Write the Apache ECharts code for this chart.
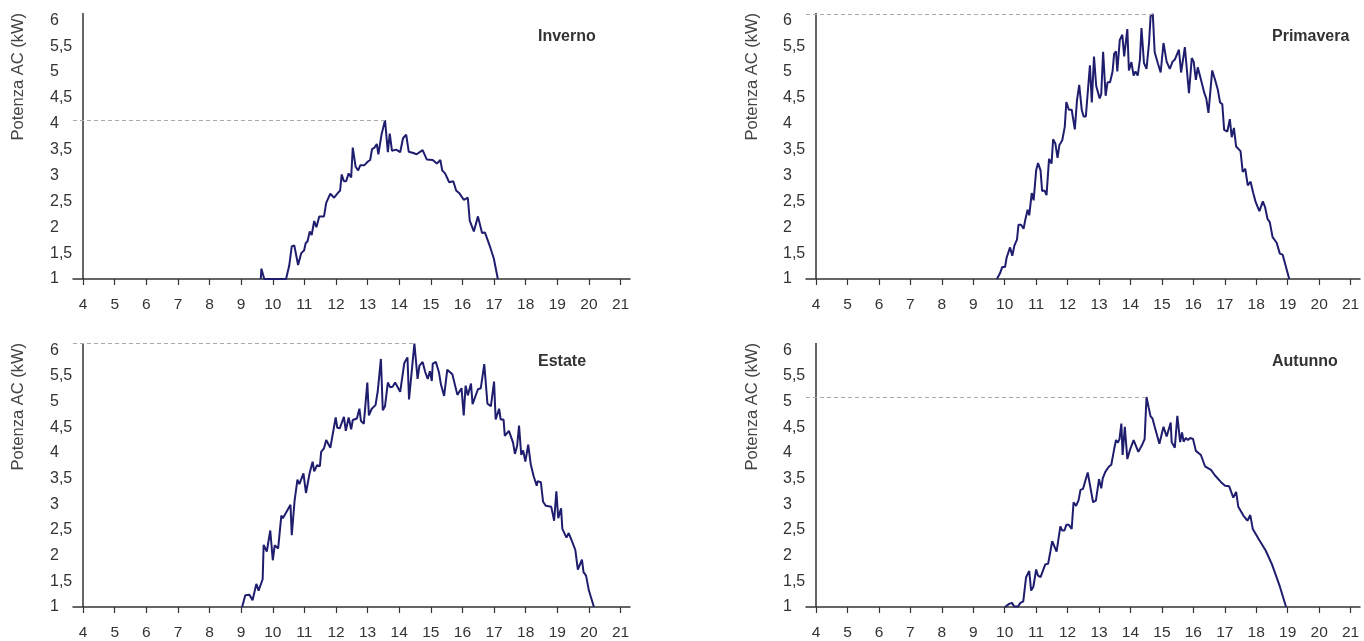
<!DOCTYPE html>
<html>
<head>
<meta charset="utf-8">
<script src="https://cdn.jsdelivr.net/npm/echarts@6/dist/echarts.min.js"></script>
<style>
html,body{margin:0;padding:0;background:#fff;}
#chart{width:1364px;height:641px;}
</style>
</head>
<body>
<div id="chart"></div>
<script>
// ---- Data (hour of day, AC power kW) ----
const titoli = ['Inverno', 'Primavera', 'Estate', 'Autunno'];
const asseY = 'Potenza AC (kW)';
const oreTick = [4,5,6,7,8,9,10,11,12,13,14,15,16,17,18,19,20,21];
const kwTick = [1,1.5,2,2.5,3,3.5,4,4.5,5,5.5,6];

const inverno = [
[9.62,1.0],[9.64,1.2],[9.7,1.18],[9.73,1.0],[10.42,1.0],[10.52,1.26],[10.6,1.63],[10.68,1.65],[10.8,1.27],[10.9,1.5],
[10.99,1.55],[11.04,1.69],[11.1,1.73],[11.17,1.92],[11.23,1.85],[11.31,2.12],[11.38,2.0],[11.47,2.21],[11.53,2.18],[11.62,2.21],
[11.69,2.47],[11.82,2.65],[11.94,2.57],[12.04,2.65],[12.13,2.71],[12.18,3.02],[12.25,2.89],[12.32,2.89],[12.4,3.04],[12.48,2.96],
[12.53,3.54],[12.62,3.17],[12.7,3.1],[12.77,3.2],[12.9,3.2],[13.01,3.27],[13.08,3.3],[13.14,3.51],[13.22,3.54],[13.29,3.61],
[13.34,3.41],[13.44,3.79],[13.55,4.07],[13.64,3.45],[13.7,3.81],[13.77,3.48],[13.83,3.48],[13.9,3.5],[14.03,3.45],[14.12,3.72],
[14.22,3.79],[14.3,3.46],[14.42,3.44],[14.55,3.41],[14.74,3.49],[14.87,3.31],[15.06,3.3],[15.19,3.23],[15.3,3.3],[15.36,3.1],
[15.45,3.04],[15.58,2.87],[15.71,2.89],[15.8,2.71],[15.91,2.65],[16.04,2.53],[16.17,2.57],[16.23,2.13],[16.36,1.92],[16.49,2.21],
[16.62,1.89],[16.71,1.9],[16.88,1.61],[16.99,1.4],[17.12,1.0]
];

const primavera = [
[9.75,1.0],[9.85,1.11],[9.92,1.23],[10.01,1.23],[10.06,1.41],[10.17,1.61],[10.24,1.45],[10.31,1.65],[10.39,1.76],[10.44,2.05],
[10.52,2.05],[10.6,1.97],[10.66,2.16],[10.73,2.34],[10.78,2.23],[10.86,2.66],[10.92,2.52],[11.0,3.1],[11.06,3.24],[11.14,3.1],
[11.19,2.7],[11.27,2.71],[11.33,2.62],[11.41,3.32],[11.49,3.23],[11.54,3.7],[11.61,3.62],[11.68,3.34],[11.74,3.59],[11.83,3.68],
[11.91,3.94],[11.96,4.42],[12.04,4.27],[12.13,4.27],[12.17,4.25],[12.23,3.89],[12.3,4.46],[12.37,4.75],[12.45,4.27],[12.51,4.14],
[12.58,4.14],[12.71,5.13],[12.77,4.41],[12.84,5.3],[12.91,4.73],[13.02,4.49],[13.07,4.57],[13.13,5.39],[13.21,4.54],[13.27,4.8],
[13.35,4.8],[13.43,5.01],[13.48,5.35],[13.54,5.4],[13.58,5.01],[13.66,5.62],[13.74,5.72],[13.8,5.3],[13.9,5.83],[13.95,5.03],
[14.03,5.19],[14.1,4.93],[14.16,5.01],[14.23,4.93],[14.3,5.24],[14.35,5.85],[14.43,5.17],[14.51,5.06],[14.59,5.56],[14.64,6.08],
[14.71,6.12],[14.77,5.38],[14.87,5.17],[14.96,4.99],[15.05,5.56],[15.15,5.2],[15.25,5.06],[15.34,5.2],[15.41,5.24],[15.46,5.24],
[15.54,5.43],[15.61,4.99],[15.73,5.48],[15.86,4.59],[15.95,5.27],[16.01,5.2],[16.08,4.85],[16.14,5.09],[16.23,4.88],[16.28,4.86],
[16.35,4.59],[16.41,4.49],[16.48,4.21],[16.6,5.03],[16.69,4.85],[16.78,4.65],[16.85,4.41],[16.92,4.38],[16.98,3.88],[17.08,3.85],
[17.16,4.09],[17.22,3.74],[17.29,3.92],[17.36,3.56],[17.5,3.47],[17.57,3.07],[17.65,3.13],[17.73,2.81],[17.82,2.88],[17.9,2.67],
[17.98,2.49],[18.1,2.31],[18.21,2.5],[18.28,2.39],[18.36,2.16],[18.43,2.1],[18.52,1.81],[18.65,1.7],[18.75,1.49],[18.84,1.47],
[19.05,1.0]
];

const estate = [
[9.03,1.0],[9.13,1.23],[9.26,1.24],[9.36,1.13],[9.48,1.45],[9.55,1.32],[9.68,1.54],[9.71,2.21],[9.81,2.08],[9.92,2.49],
[10.0,1.91],[10.06,2.2],[10.17,2.14],[10.27,2.78],[10.32,2.73],[10.56,2.99],[10.6,2.4],[10.69,3.07],[10.78,3.48],[10.84,3.39],
[10.97,3.6],[11.05,3.22],[11.17,3.62],[11.26,3.83],[11.31,3.64],[11.4,3.76],[11.49,3.74],[11.53,4.02],[11.62,4.09],[11.69,4.25],
[11.82,4.1],[11.99,4.69],[12.04,4.49],[12.12,4.48],[12.25,4.7],[12.31,4.43],[12.4,4.69],[12.48,4.46],[12.53,4.64],[12.66,4.67],
[12.74,4.86],[12.79,4.62],[12.88,4.57],[12.99,5.37],[13.04,4.73],[13.13,4.86],[13.25,4.93],[13.32,5.2],[13.42,5.83],[13.48,4.83],
[13.55,4.91],[13.64,5.37],[13.71,5.28],[13.79,5.29],[13.87,5.37],[14.03,5.19],[14.16,5.75],[14.26,5.86],[14.31,5.04],[14.42,5.75],
[14.48,6.13],[14.58,5.44],[14.64,5.7],[14.74,5.77],[14.82,5.58],[14.9,5.44],[14.97,5.59],[15.03,5.4],[15.06,5.74],[15.16,5.77],
[15.26,5.56],[15.32,5.33],[15.42,5.11],[15.52,5.62],[15.68,5.53],[15.84,5.13],[15.97,5.26],[16.04,4.73],[16.1,5.31],[16.17,5.12],
[16.27,5.35],[16.32,4.95],[16.49,5.24],[16.58,5.26],[16.69,5.73],[16.79,4.96],[16.9,4.91],[17.0,5.39],[17.05,4.65],[17.16,4.86],
[17.21,4.65],[17.3,4.65],[17.34,4.33],[17.47,4.43],[17.6,4.2],[17.66,3.98],[17.73,4.14],[17.79,4.53],[17.86,3.96],[17.92,4.05],
[17.99,3.83],[18.08,4.16],[18.16,3.78],[18.25,3.55],[18.35,3.36],[18.38,3.45],[18.48,3.43],[18.55,3.05],[18.64,2.97],[18.81,2.95],
[18.9,2.68],[18.97,3.25],[19.03,2.73],[19.12,2.92],[19.16,2.52],[19.29,2.35],[19.36,2.44],[19.48,2.26],[19.57,2.11],[19.65,1.73],
[19.78,1.92],[19.83,1.68],[19.91,1.61],[20.0,1.32],[20.16,1.0]
];

const autunno = [
[10.01,1.0],[10.14,1.06],[10.23,1.08],[10.3,1.01],[10.42,1.01],[10.5,1.08],[10.59,1.11],[10.68,1.58],[10.78,1.7],[10.84,1.32],
[10.91,1.39],[11.0,1.73],[11.06,1.61],[11.14,1.58],[11.29,1.83],[11.38,1.84],[11.45,2.07],[11.51,2.28],[11.65,2.08],[11.77,2.57],
[11.83,2.49],[11.9,2.49],[11.96,2.6],[12.04,2.6],[12.13,2.52],[12.19,3.04],[12.27,2.97],[12.35,3.08],[12.41,3.28],[12.49,3.3],
[12.64,3.62],[12.81,3.04],[12.9,3.07],[13.0,3.49],[13.07,3.31],[13.12,3.51],[13.2,3.63],[13.26,3.61],[13.31,3.73],[13.39,3.77],
[13.48,4.07],[13.54,4.25],[13.6,4.2],[13.65,4.27],[13.71,4.57],[13.75,3.96],[13.82,4.51],[13.9,3.88],[13.99,4.07],[14.1,4.25],
[14.16,4.27],[14.25,4.02],[14.38,4.17],[14.45,4.27],[14.51,5.09],[14.58,4.88],[14.64,4.71],[14.7,4.67],[14.77,4.51],[14.92,4.18],
[14.98,4.19],[15.05,4.51],[15.15,4.32],[15.28,4.59],[15.31,4.21],[15.41,4.1],[15.49,4.72],[15.58,4.21],[15.64,4.4],[15.69,4.22],
[15.76,4.29],[15.83,4.25],[15.9,4.29],[15.99,4.27],[16.08,4.04],[16.24,3.96],[16.37,3.74],[16.56,3.67],[16.69,3.56],[16.88,3.43],
[17.01,3.36],[17.14,3.35],[17.27,3.13],[17.36,3.24],[17.43,2.95],[17.59,2.78],[17.72,2.68],[17.81,2.79],[17.89,2.52],[18.11,2.29],
[18.3,2.1],[18.5,1.83],[18.75,1.4],[18.95,1.0]
];

const serie = [inverno, primavera, estate, autunno];

// ---- Layout ----
const X_MIN = 3.68, X_MAX = 21.3, Y_MIN = 1, Y_MAX = 6.14;
const grids = [
  {left: 73, top: 13, width: 557, height: 266},
  {left: 806, top: 13, width: 554, height: 266},
  {left: 73, top: 343, width: 557, height: 265},
  {left: 806, top: 343, width: 554, height: 265}
];
const titlePos = [
  {left: 533, top: 24}, {left: 1267, top: 24}, {left: 533, top: 349}, {left: 1267, top: 349}
];
const FONT = '"Liberation Sans", Arial, sans-serif';
const AX = '#333';
const LINE = '#1f1d6e';

const option = {
  animation: false,
  backgroundColor: '#fff',
  title: titoli.map((t, i) => ({
    text: t, left: titlePos[i].left, top: titlePos[i].top,
    textStyle: {fontFamily: FONT, fontSize: 16, fontWeight: 'bold', color: '#333'}
  })),
  grid: grids,
  xAxis: grids.map((g, i) => ({
    type: 'value', gridIndex: i, min: X_MIN, max: X_MAX,
    splitLine: {show: false},
    axisLine: {show: true, lineStyle: {color: AX, width: 1.5}},
    axisTick: {show: true, length: 6, customValues: oreTick, lineStyle: {color: AX, width: 1.2}},
    axisLabel: {customValues: oreTick, margin: 18, fontFamily: FONT, fontSize: 15.5, color: '#333'}
  })),
  yAxis: grids.map((g, i) => ({
    type: 'value', gridIndex: i, min: Y_MIN, max: Y_MAX,
    splitLine: {show: false},
    axisLine: {show: false},
    axisTick: {show: false},
    axisLabel: {
      customValues: kwTick, margin: 23, align: 'left',
      fontFamily: FONT, fontSize: 16, color: '#333',
      formatter: v => String(v).replace('.', ',')
    }
  })),
  graphic: grids.map((g, i) => ({
    type: 'text',
    x: (i % 2 === 0) ? 18 : 752,
    y: g.top,
    rotation: Math.PI / 2,
    style: {
      text: asseY, fontFamily: FONT, fontSize: 16.5, fill: '#444',
      align: 'right', verticalAlign: 'middle'
    }
  })),
  series: serie.map((d, i) => {
    let peak = d[0];
    d.forEach(p => { if (p[1] > peak[1]) peak = p; });
    return {
      type: 'line', xAxisIndex: i, yAxisIndex: i,
      data: d, showSymbol: false, symbol: 'none',
      lineStyle: {color: LINE, width: 2},
      clip: false,
      markLine: {
        silent: true, symbol: 'none', label: {show: false},
        animation: false,
        data: [
          {xAxis: 4, lineStyle: {color: AX, width: 1.5, type: 'solid'}},
          [
            {coord: [X_MIN, peak[1]], lineStyle: {color: '#aaa', width: 1, type: [4, 3]}},
            {coord: [peak[0], peak[1]]}
          ]
        ]
      }
    };
  })
};

const chart = echarts.init(document.getElementById('chart'), null, {renderer: 'canvas'});
chart.setOption(option);
</script>
</body>
</html>
